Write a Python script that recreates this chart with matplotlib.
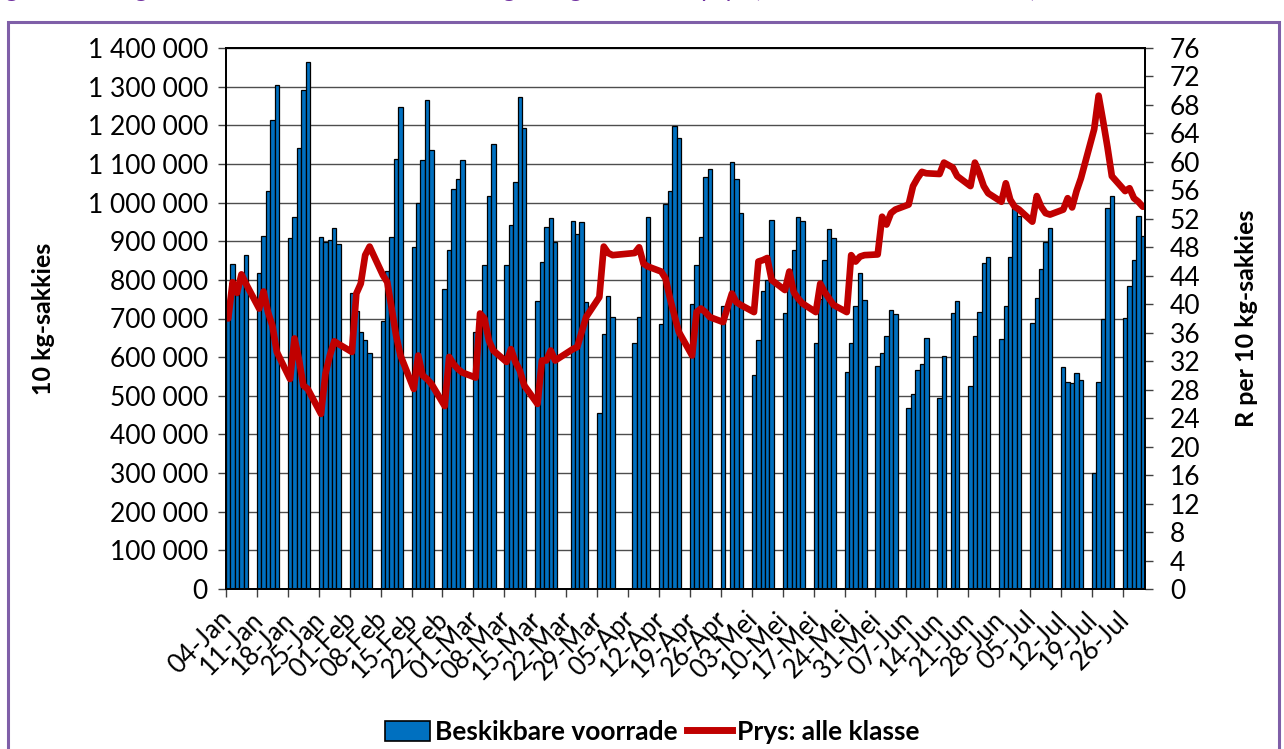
import matplotlib
matplotlib.use('agg')
import matplotlib.pyplot as plt
import matplotlib.transforms as mtransforms
from matplotlib.patches import Rectangle, Patch
from matplotlib.lines import Line2D
from matplotlib.ticker import FuncFormatter

# Weekly category labels (every Monday)
week_labels = ['04-Jan', '11-Jan', '18-Jan', '25-Jan', '01-Feb', '08-Feb', '15-Feb',
               '22-Feb', '01-Mar', '08-Mar', '15-Mar', '22-Mar', '29-Mar', '05-Apr',
               '12-Apr', '19-Apr', '26-Apr', '03-Mei', '10-Mei', '17-Mei', '24-Mei',
               '31-Mei', '07-Jun', '14-Jun', '21-Jun', '28-Jun', '05-Jul', '12-Jul',
               '19-Jul', '26-Jul']

# Available stock (thousand 10 kg bags), Monday..Friday per week, None = holiday
voorrade_k = [
    [720, 840, 760, 800, 865], [818, 914, 1030, 1214, 1304], [909, 963, 1142, 1292, 1365],
    [910, 898, 902, 934, 894], [765, 720, 666, 644, 612], [693, 822, 910, 1113, 1247],
    [884, 999, 1110, 1266, 1135], [777, 878, 1036, 1060, 1110], [664, 700, 838, 1018, 1152],
    [838, 941, 1054, 1273, 1192], [746, 846, 938, 960, 898], [None, 953, 918, 950, 743],
    [455, 661, 759, 703, None], [None, 637, 703, 850, 963], [687, 997, 1030, 1197, 1166],
    [738, 839, 911, 1065, 1086], [732, None, 1105, 1061, 972], [555, 645, 770, 800, 956],
    [713, 790, 878, 963, 953], [637, 750, 851, 932, 909], [562, 637, 732, 819, 749],
    [578, 612, 655, 721, 712], [469, 504, 567, 581, 650], [495, 603, None, 713, 746],
    [526, 656, 716, 844, 860], [647, 732, 858, 985, 965], [689, 754, 829, 899, 935],
    [574, 536, 533, 559, 542], [300, 535, 700, 986, 1017], [702, 785, 851, 965, 913],
]

# Price, all classes (R per 10 kg bag), Monday..Friday per week
prys = [
    [38.0, 43.1, 41.6, 44.2, 42.9], [39.4, 41.8, 38.9, 37.0, 33.3], [29.5, 35.2, 32.3, 28.6, 28.1],
    [24.6, 30.2, 32.8, 34.8, 34.4], [33.3, 41.5, 42.9, 46.9, 48.1], [44.1, 43.1, 39.4, 35.6, 32.8],
    [28.1, 32.8, 30.0, 29.5, 28.8], [25.7, 32.6, 31.6, 30.9, 30.4], [29.7, 38.7, 38.0, 34.9, 33.5],
    [31.9, 33.7, 31.9, 30.7, 28.6], [26.0, 32.1, 32.1, 33.5, 32.1], [None, 33.7, 34.0, 36.1, 38.2],
    [41.0, 48.1, 47.2, 46.9, None], [None, 47.2, 48.0, 45.7, 45.3], [44.6, 43.6, 40.8, 38.4, 36.1],
    [32.8, 38.9, 39.4, 38.9, 38.2], [37.5, None, 41.5, 40.3, 39.9], [38.9, 46.0, 46.2, 46.5, 43.4],
    [42.0, 44.6, 41.7, 40.8, 40.1], [38.9, 42.9, 41.7, 40.8, 39.9], [38.9, 46.9, 46.0, 46.7, 46.9],
    [47.0, 52.3, 51.2, 52.8, 53.3], [54.0, 56.6, 57.7, 58.6, 58.4], [58.3, 59.9, None, 59.2, 58.0],
    [56.6, 59.9, 58.4, 56.6, 55.6], [54.4, 57.0, 54.7, 53.7, 53.3], [51.6, 55.2, 53.7, 52.8, 52.6],
    [53.3, 54.9, 53.6, 55.9, 57.7], [64.6, 69.3, 65.8, 62.1, 58.0], [55.9, 56.3, 54.9, 54.4, 53.7],
]

plt.rcParams['font.family'] = ['Lato', 'DejaVu Sans']

# daily category axis: 7 slots per week, weekends stay empty
n_slots = 7 * len(week_labels) - 2
bar_x, bar_y, line_x, line_y = [], [], [], []
for w, (vals, prices) in enumerate(zip(voorrade_k, prys)):
    for d in range(5):
        slot = 7 * w + d
        if vals[d] is not None:
            bar_x.append(slot)
            bar_y.append(vals[d] * 1000)
        if prices[d] is not None:
            line_x.append(slot)
            line_y.append(prices[d])

W, H = 1284, 749
fig = plt.figure(figsize=(W / 100, H / 100), dpi=100)
ax = fig.add_axes([226 / W, 1 - 589 / H, (1145 - 226) / W, (589 - 48) / H])

ax.bar(bar_x, bar_y, width=1.0, color='#0070C0', edgecolor='black', linewidth=0.9)
ax.set_xlim(-0.5, n_slots - 0.5)
ax.set_ylim(0, 1400000)
ax.set_yticks(range(0, 1400001, 100000))
ax.yaxis.set_major_formatter(FuncFormatter(lambda v, p: f'{int(v):,}'.replace(',', ' ')))
ax.yaxis.grid(True, color='#4d4d4d', linewidth=1)
ax.set_axisbelow(True)

ax.set_xticks([7 * w - 0.5 for w in range(len(week_labels))])
ax.set_xticklabels([])
ax.set_xticks([7 * w for w in range(len(week_labels))], minor=True)
ax.set_xticklabels(week_labels, minor=True, rotation=45, ha='right', va='center',
                   rotation_mode='anchor')
shift = mtransforms.ScaledTranslation(7 / 100, 0, fig.dpi_scale_trans)
for lab in ax.get_xticklabels(minor=True):
    lab.set_transform(lab.get_transform() + shift)
ax.tick_params(axis='x', which='minor', length=0, pad=19, labelsize=18.5)
ax.tick_params(axis='x', which='major', length=6, width=1, color='#404040')
ax.tick_params(axis='y', length=6, width=1, color='#404040', labelsize=19, pad=7)
ax.set_ylabel('10 kg-sakkies', fontsize=18, fontweight='bold')
ax.yaxis.set_label_coords(-0.186, 0.5)

ax2 = ax.twinx()
ax2.plot(line_x, line_y, color='#C00000', linewidth=4.8, solid_joinstyle='round',
         solid_capstyle='round')
ax2.set_ylim(0, 76)
ax2.set_yticks(range(0, 77, 4))
ax2.tick_params(axis='y', length=6, width=1, color='#404040', labelsize=19, pad=12)
ax2.set_ylabel('R per 10 kg-sakkies', fontsize=18, fontweight='bold')
ax2.yaxis.set_label_coords(1.098, 0.5)

for a in (ax, ax2):
    for s in a.spines.values():
        s.set_color('black')
        s.set_linewidth(1.3)

handles = [Patch(facecolor='#0070C0', edgecolor='black', linewidth=1.2),
           Line2D([], [], color='#C00000', linewidth=5)]
fig.legend(handles, ['Beskikbare voorrade', 'Prys: alle klasse'], loc='center',
           bbox_to_anchor=(0.508, 1 - 732 / H), ncol=2, frameon=False,
           prop={'size': 19, 'weight': 'bold'}, handlelength=1.7, handleheight=0.8,
           handletextpad=0.2, columnspacing=0.35)

# purple frame and the caption above it, cropped by the top edge as in the source
fig.add_artist(Rectangle((8 / W, -0.05), (1279 - 8) / W, (749 - 22) / H + 0.05,
                         transform=fig.transFigure, fill=False, edgecolor='#7F5FA8',
                         linewidth=2.2))
fig.text(-0.01, 1 + 3 / H, 'Figuur 1: Daaglikse beskikbare voorrade en daaglikse gemiddelde prys '
         '(alle klasse en alle markte)', color='#7030A0', fontsize=19, style='italic',
         va='baseline', ha='left')

fig.savefig('out.png', dpi=100)
